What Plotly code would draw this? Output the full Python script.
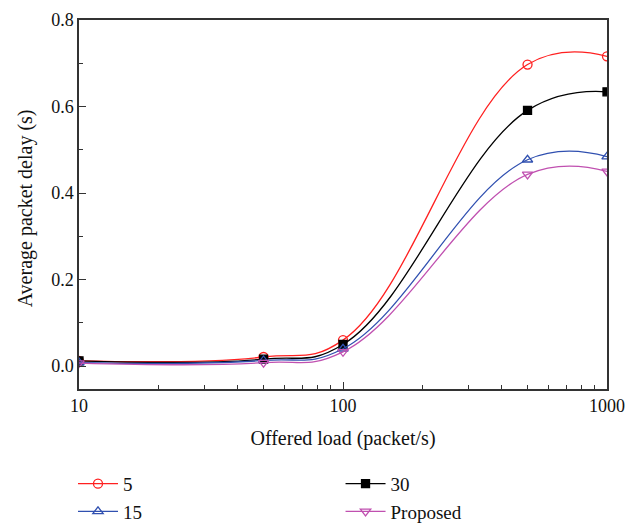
import plotly.graph_objects as go

loads = [10, 50, 100, 500, 1000]
delay_5 = [0.012, 0.021, 0.060, 0.697, 0.716]
delay_30 = [0.012, 0.016, 0.050, 0.591, 0.634]
delay_15 = [0.008, 0.013, 0.040, 0.477, 0.484]
delay_proposed = [0.007, 0.008, 0.033, 0.443, 0.450]

series = [
    ("5", delay_5, "#ff2020", "circle-open", 9, "legend"),
    ("30", delay_30, "#000000", "square", 8, "legend2"),
    ("15", delay_15, "#3050b0", "triangle-up-open", 9, "legend"),
    ("Proposed", delay_proposed, "#c050b0", "triangle-down-open", 9, "legend2"),
]

fig = go.Figure()
for name, vals, color, sym, size, leg in series:
    fig.add_trace(go.Scatter(
        x=loads, y=vals, name=name, mode="lines+markers", legend=leg,
        line=dict(color=color, width=1.3, shape="spline", smoothing=1.2),
        marker=dict(symbol=sym, size=size, color=color,
                    line=dict(color=color, width=1.3)),
    ))

font = "Liberation Serif, Times New Roman, serif"
leg_common = dict(orientation="v", xref="container", yref="container",
                  xanchor="left", yanchor="top", y=0.113,
                  font=dict(size=19), tracegroupgap=0, itemwidth=40,
                  bgcolor="rgba(0,0,0,0)")
fig.update_layout(
    width=631, height=515,
    margin=dict(l=71, r=32, t=12, b=134, autoexpand=False),
    paper_bgcolor="white", plot_bgcolor="white",
    font=dict(family=font, size=18, color="#111"),
    legend=dict(x=0.103, **leg_common),
    legend2=dict(x=0.527, **leg_common),
    xaxis=dict(type="log", range=[1, 3], showgrid=False,
               tickvals=[10, 100, 1000], ticktext=["10", "100", "1000"],
               ticks="inside", ticklen=7, tickwidth=1.2, tickcolor="#333",
               minor=dict(ticks="inside", ticklen=4, tickwidth=1, tickcolor="#333",
                          tickvals=[20, 30, 40, 50, 60, 70, 80, 90,
                                    200, 300, 400, 500, 600, 700, 800, 900]),
               showline=True, linecolor="#333", linewidth=1.5, mirror=True,
               zeroline=False, tickfont=dict(size=18),
               title=dict(text="Offered load (packet/s)", standoff=16, font=dict(size=20))),
    yaxis=dict(range=[-0.053, 0.8], showgrid=False,
               tickvals=[0, 0.2, 0.4, 0.6, 0.8], ticktext=["0.0", "0.2", "0.4", "0.6", "0.8"],
               ticks="inside", ticklen=7, tickwidth=1.2, tickcolor="#333",
               minor=dict(ticks="inside", ticklen=4, tickwidth=1, tickcolor="#333",
                          tickvals=[0.1, 0.3, 0.5, 0.7]),
               showline=True, linecolor="#333", linewidth=1.5, mirror=True,
               zeroline=False, tickfont=dict(size=18)),
    annotations=[dict(text="Average packet delay (s)", textangle=-90,
                      xref="paper", yref="paper", x=-0.102, y=0.49,
                      xanchor="center", yanchor="middle", showarrow=False,
                      font=dict(size=20))],
)

fig.write_html("out.html")
